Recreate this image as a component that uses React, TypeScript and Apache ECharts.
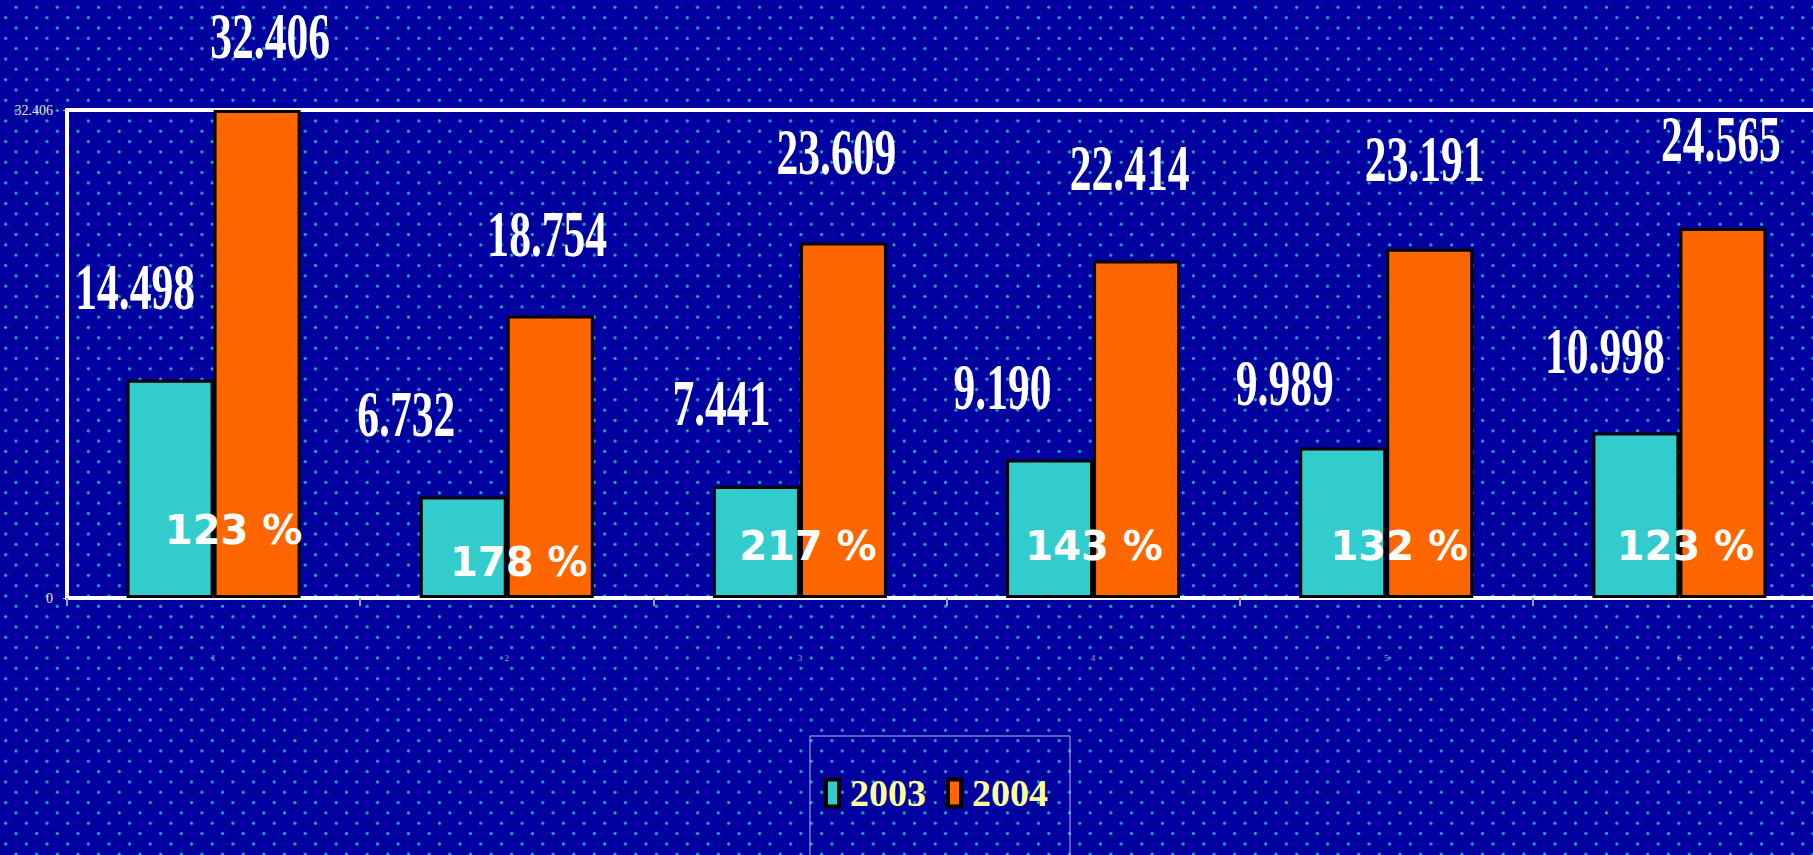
import React, { useEffect, useRef } from "react";
import * as echarts from "echarts";

const categories = ["1", "2", "3", "4", "5", "6"];
const seriesNames = ["2003", "2004"];
const values2003 = [14.498, 6.732, 7.441, 9.19, 9.989, 10.998];
const values2004 = [32.406, 18.754, 23.609, 22.414, 23.191, 24.565];
const growthPercent = [123, 178, 217, 143, 132, 123];
const yAxisMin = 0;
const yAxisMax = 32.406;

// hand-placed label nudges (pixels), as in the original slide
const nudge2003X = [-35, -57, -35, -47, -58, -31];
const nudge2003Y = [93, 83, 83, 73, 65, 82];
const nudge2004X = [13, -3, -7, -7, -5, -2];
const nudge2004Y = [74, 82, 91, 93, 90, 90];
const nudgePctX = [20, 12, 8, 1, 13, 6];
const nudgePctY = [68, 36, 52, 52, 52, 52];

const BAR_W = 87;

export default function App() {
  const ref = useRef<HTMLDivElement>(null);
  useEffect(() => {
    if (!ref.current) return;
    document.body.style.overflow = "hidden";
    const chart = echarts.init(ref.current, null, { renderer: "svg" });
    const labelData = categories.map((_, i) => [i, values2003[i], values2004[i]]);
    const bigFont = 'bold 66px "Liberation Serif", "Times New Roman", serif';
    chart.setOption({
      animation: false,
      backgroundColor: "transparent",
      grid: {
        left: 67,
        top: 110,
        right: 0,
        height: 488,
        show: true,
        borderColor: "#ffffff",
        borderWidth: 4,
        backgroundColor: "transparent",
      },
      legend: {
        data: seriesNames,
        left: 824,
        top: 774,
        padding: 0,
        itemGap: 20,
        icon: "rect",
        itemWidth: 13,
        itemHeight: 27,
        itemStyle: { borderColor: "#000000", borderWidth: 4 },
        textStyle: {
          color: "#FFFF99",
          fontFamily: '"Liberation Serif", serif',
          fontWeight: "bold",
          fontSize: 38,
          padding: [0, 0, 0, 6],
        },
        selectedMode: false,
      },
      graphic: [
        {
          type: "rect",
          shape: { x: 810, y: 736, width: 260, height: 140 },
          style: { fill: "transparent", stroke: "#B8B8E8", lineWidth: 1 },
          silent: true,
        },
      ],
      xAxis: {
        type: "category",
        data: categories,
        axisLine: { show: true, lineStyle: { color: "#ffffff", width: 4 } },
        axisTick: { show: true, length: 8, lineStyle: { color: "#9A9AD0", width: 2 } },
        axisLabel: {
          color: "#A0A0B8",
          fontSize: 9,
          margin: 55,
          fontFamily: '"Liberation Serif", serif',
        },
        splitLine: { show: false },
      },
      yAxis: {
        type: "value",
        min: yAxisMin,
        max: yAxisMax,
        interval: yAxisMax,
        axisLine: { show: true, lineStyle: { color: "#ffffff", width: 4 } },
        axisTick: { show: true, length: 4, lineStyle: { color: "#C8C8D8", width: 1 } },
        axisLabel: {
          color: "#E6E6C0",
          fontSize: 14,
          margin: 14,
          fontFamily: '"Liberation Serif", serif',
        },
        splitLine: { show: false },
      },
      series: [
        {
          name: seriesNames[0],
          type: "bar",
          data: values2003,
          barWidth: BAR_W,
          barGap: "0%",
          itemStyle: { color: "#33CCCC", borderColor: "#000000", borderWidth: 3 },
        },
        {
          name: seriesNames[1],
          type: "bar",
          data: values2004,
          barWidth: BAR_W,
          barGap: "0%",
          itemStyle: { color: "#FF6600", borderColor: "#000000", borderWidth: 3 },
        },
        {
          type: "custom",
          name: "labels",
          silent: true,
          z: 10,
          encode: { x: 0, y: [1, 2] },
          data: labelData,
          renderItem: (params: any, api: any) => {
            const i = api.value(0);
            const v1 = api.value(1);
            const v2 = api.value(2);
            const base = api.coord([i, 0]);
            const p1 = api.coord([i, v1]);
            const p2 = api.coord([i, v2]);
            const half = BAR_W / 2;
            return {
              type: "group",
              children: [
                {
                  type: "text",
                  x: base[0] - half + nudge2003X[i],
                  y: p1[1] - nudge2003Y[i],
                  scaleX: 0.66,
                  style: {
                    text: v1.toFixed(3),
                    font: bigFont,
                    fill: "#ffffff",
                    align: "center",
                    verticalAlign: "middle",
                  },
                },
                {
                  type: "text",
                  x: base[0] + half + nudge2004X[i],
                  y: p2[1] - nudge2004Y[i],
                  scaleX: 0.66,
                  style: {
                    text: v2.toFixed(3),
                    font: bigFont,
                    fill: "#ffffff",
                    align: "center",
                    verticalAlign: "middle",
                  },
                },
                {
                  type: "text",
                  x: base[0] + nudgePctX[i],
                  y: base[1] - nudgePctY[i],
                  style: {
                    text: growthPercent[i] + " %",
                    font: 'bold 40px "DejaVu Sans", Verdana, sans-serif',
                    fill: "#ffffff",
                    align: "center",
                    verticalAlign: "middle",
                  },
                },
              ],
            };
          },
        },
      ],
    });
    return () => chart.dispose();
  }, []);

  const dot = "radial-gradient(circle at center, rgba(40,190,190,1) 0px, rgba(40,190,190,0.85) 1px, rgba(40,190,190,0) 2.2px)";
  return (
    <div
      ref={ref}
      style={{
        position: "fixed",
        left: 0,
        top: 0,
        width: 1826,
        height: 855,
        backgroundColor: "#0000A0",
        backgroundImage: `${dot}, ${dot}`,
        backgroundSize: "20.67px 20.67px, 20.67px 20.67px",
        backgroundPosition: "5.67px -3.03px, -4.67px 7.37px",
      }}
    />
  );
}
